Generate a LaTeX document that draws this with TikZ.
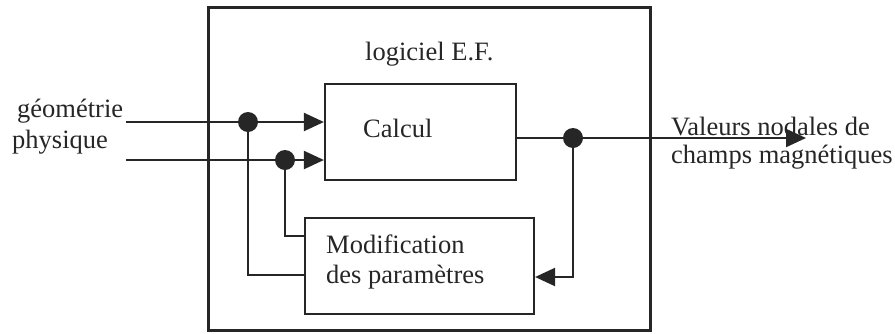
\documentclass[tikz,border=0pt]{standalone}
\usepackage{fontspec}
\setmainfont{Liberation Serif}
\usetikzlibrary{arrows.meta}
\begin{document}
\begin{tikzpicture}[x=1pt,y=-1pt,
  wire/.style={line width=2.2pt, draw=black!85},
  arr/.style={wire, -{Triangle[length=20pt,width=18pt]}},
  blk/.style={draw=black!85, line width=2.2pt, inner sep=0pt},
  txt/.style={font=\fontsize{26.5}{30}\selectfont, inner sep=0pt, anchor=base west, text=black!85},
  dotn/.style={circle, fill=black!85, minimum size=20pt, inner sep=0pt}]
\useasboundingbox (0,0) rectangle (895,333);
% boxes
\node[blk, minimum width=442pt, minimum height=323pt] (outer) at (429.5,169) {};
\node[blk, minimum width=191pt, minimum height=96pt] (calc) at (420.5,132) {};
\node[blk, minimum width=229pt, minimum height=96pt] (modif) at (419.5,266) {};
% texts
\node[txt] (tlog) at (365,60) {logiciel E.F.};
\node[txt] (tcalc) at (363,137) {Calcul};
\node[txt] (tmod1) at (326,253) {Modification};
\node[txt] (tmod2) at (326,283) {des paramètres};
\node[txt] (tgeo) at (17,117) {géométrie};
\node[txt] (tphy) at (12,148) {physique};
\node[txt] (tval1) at (671,135) {Valeurs nodales de};
\node[txt] (tval2) at (671,163) {champs magnétiques};
% junctions
\coordinate (g0) at (126,122);
\coordinate (p0) at (126,160);
\node[dotn] (d1) at (248,122) {};
\node[dotn] (d2) at (285,160) {};
\node[dotn] (d3) at (573,138) {};
\coordinate (o1) at (806,138);
\coordinate (gy) at (0,275);
\coordinate (py) at (0,236);
\coordinate (ry) at (0,277);
% connectors
\draw[wire] (g0) -- (d1.center);
\draw[arr] (d1.center) -- (calc.west |- g0);
\draw[wire] (p0) -- (d2.center);
\draw[arr] (d2.center) -- (calc.west |- p0);
\draw[wire] (d1.center) |- (modif.west |- gy);
\draw[wire] (d2.center) |- (modif.west |- py);
\draw[wire] (calc.east |- d3) -- (d3.center);
\draw[arr] (d3.center) -- (o1);
\draw[arr] (d3.center) |- (modif.east |- ry);
\end{tikzpicture}
\end{document}
